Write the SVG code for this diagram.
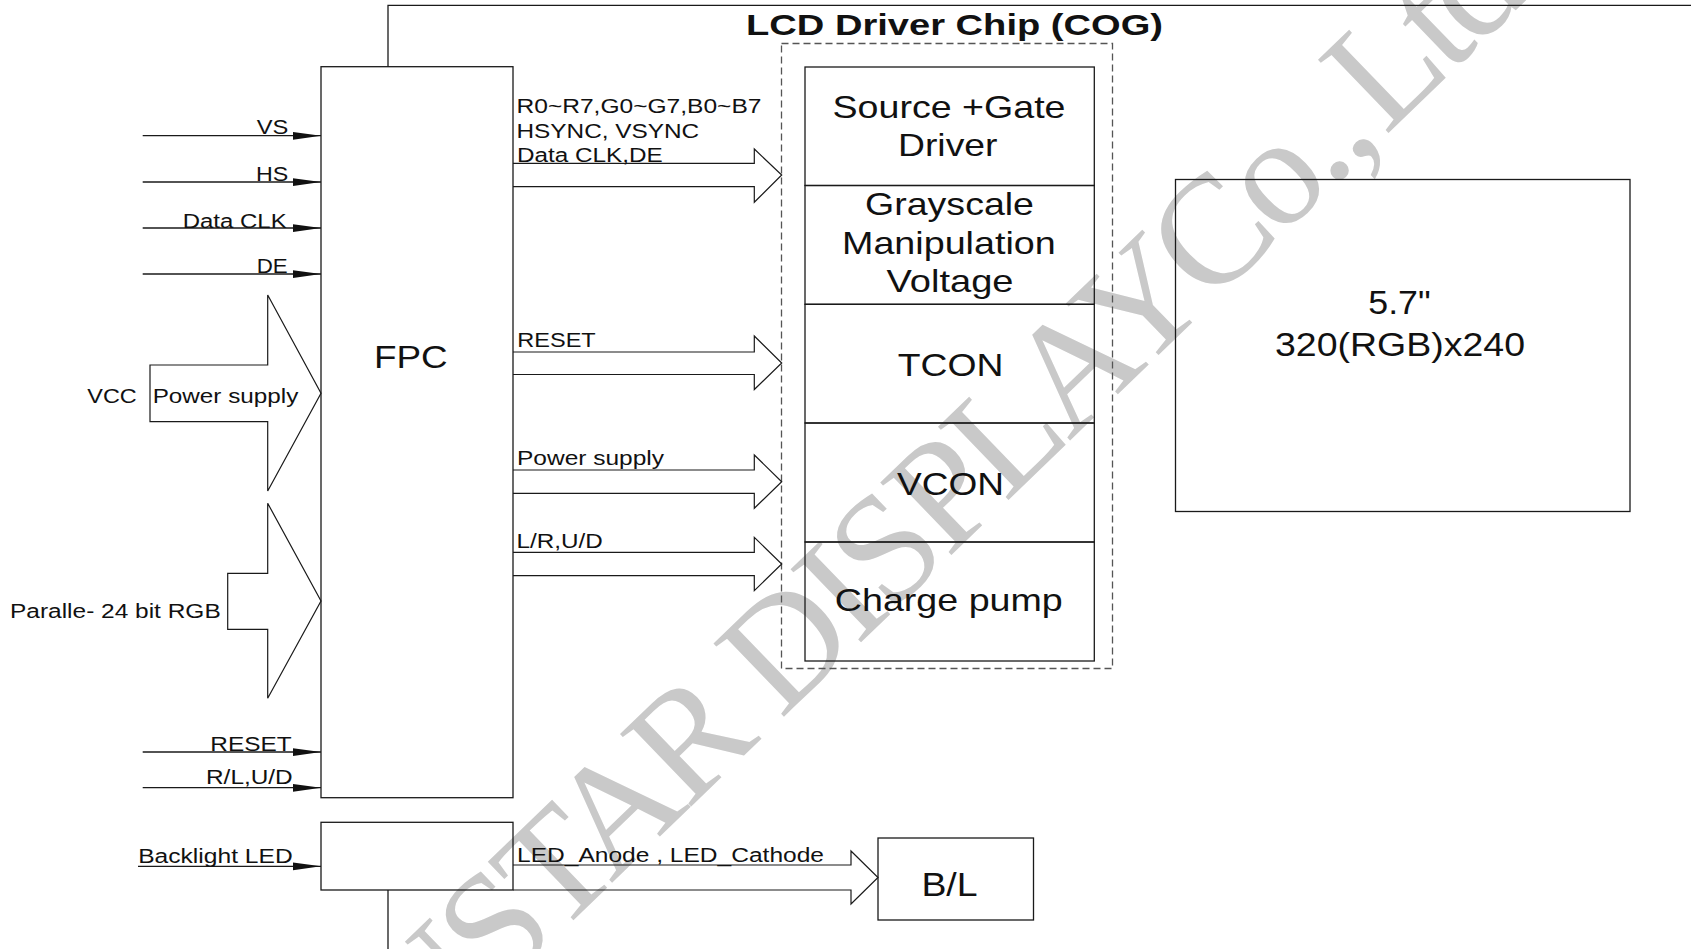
<svg xmlns="http://www.w3.org/2000/svg" width="1691" height="949" viewBox="0 0 1691 949">
<defs>
<style>
.ln{stroke:#1a1a1a;stroke-width:1.3;fill:none}
.bx{stroke:#1a1a1a;stroke-width:1.3;fill:none}
.ba{stroke:#1a1a1a;stroke-width:1.2;fill:none;stroke-linejoin:miter}
.t{font-family:"Liberation Sans",Arial,sans-serif;fill:#111}
.s{font-size:20px}
.m{font-size:32px}
.wm{font-family:"Liberation Serif","Times New Roman",serif;font-size:155px;letter-spacing:-6px;fill:#c9c9c9}
</style>
<marker id="ah" markerUnits="userSpaceOnUse" markerWidth="30" markerHeight="10" refX="28" refY="4" orient="auto">
<path d="M0,0.3 L28,4 L0,8 Z" fill="#111"/>
</marker>
</defs>
<rect width="1691" height="949" fill="#fff"/>
<g id="watermark" transform="translate(288.5,1195.2) rotate(-44)">
<text class="wm" x="0" y="0">WINSTAR DISPLAY <tspan dx="-30">Co.,</tspan> <tspan dx="-22">Ltd.</tspan></text>
</g>
<g id="frame">
<path class="ln" d="M388,66.7 V5.4 H1691"/>
<path class="ln" d="M388,890 V949"/>
</g>
<g id="title"><text class="t" x="746" y="35" font-size="30" font-weight="bold" textLength="417" lengthAdjust="spacingAndGlyphs">LCD Driver Chip (COG)</text></g>
<g id="fpc">
<rect class="bx" x="321" y="66.7" width="192" height="731"/>
<text class="t" x="374" y="368.3" font-size="31" textLength="73.7" lengthAdjust="spacingAndGlyphs">FPC</text>
</g>
<g id="backlight-fpc"><rect class="bx" x="321" y="822.3" width="192" height="67.7"/></g>
<g id="cog"><rect x="781.5" y="43.5" width="331" height="625" fill="none" stroke="#555" stroke-width="1.3" stroke-dasharray="7,4"/></g>
<g id="source-gate">
<rect class="bx" x="805" y="67" width="289.3" height="118.5"/>
<text class="t m" x="832.5" y="118" textLength="233" lengthAdjust="spacingAndGlyphs">Source +Gate</text>
<text class="t m" x="898" y="155.5" textLength="99.5" lengthAdjust="spacingAndGlyphs">Driver</text>
</g>
<g id="grayscale">
<rect class="bx" x="805" y="185.5" width="289.3" height="118.8"/>
<text class="t m" x="865" y="215" textLength="169" lengthAdjust="spacingAndGlyphs">Grayscale</text>
<text class="t m" x="842" y="254" textLength="213.7" lengthAdjust="spacingAndGlyphs">Manipulation</text>
<text class="t m" x="886.5" y="291.5" textLength="127" lengthAdjust="spacingAndGlyphs">Voltage</text>
</g>
<g id="tcon">
<rect class="bx" x="805" y="304.3" width="289.3" height="118.7"/>
<text class="t m" x="897.8" y="376" textLength="105.7" lengthAdjust="spacingAndGlyphs">TCON</text>
</g>
<g id="vcon">
<rect class="bx" x="805" y="423" width="289.3" height="119"/>
<text class="t m" x="897" y="495" textLength="107" lengthAdjust="spacingAndGlyphs">VCON</text>
</g>
<g id="charge-pump">
<rect class="bx" x="805" y="542" width="289.3" height="119"/>
<text class="t m" x="834.8" y="611" textLength="228" lengthAdjust="spacingAndGlyphs">Charge pump</text>
</g>
<g id="panel">
<rect class="bx" x="1175.5" y="179.5" width="454.5" height="332"/>
<text class="t" x="1368.3" y="314" font-size="34" textLength="62.4" lengthAdjust="spacingAndGlyphs">5.7"</text>
<text class="t" x="1275" y="356" font-size="34" textLength="250" lengthAdjust="spacingAndGlyphs">320(RGB)x240</text>
</g>
<g id="bl">
<rect class="bx" x="878" y="838" width="155.5" height="82"/>
<text class="t" x="921.4" y="895.5" font-size="33" textLength="56.2" lengthAdjust="spacingAndGlyphs">B/L</text>
</g>
<g id="connectors">
<path class="ln" d="M142.7,135.7 H321" marker-end="url(#ah)"/>
<path class="ln" d="M142.7,182 H321" marker-end="url(#ah)"/>
<path class="ln" d="M142.7,228 H321" marker-end="url(#ah)"/>
<path class="ln" d="M142.7,274 H321" marker-end="url(#ah)"/>
<path class="ln" d="M142.7,752 H321" marker-end="url(#ah)"/>
<path class="ln" d="M142.7,787.7 H321" marker-end="url(#ah)"/>
<path class="ln" d="M138,866.3 H321" marker-end="url(#ah)"/>
<polygon class="ba" points="150,365 267.7,365 267.7,295 321,393.3 267.7,491 267.7,421.7 150,421.7"/>
<polygon class="ba" points="227.7,573.3 267.7,573.3 267.7,503.3 321,601 267.7,698.3 267.7,629.3 227.7,629.3"/>
<polyline class="ba" points="513,163.3 754.3,163.3 754.3,149 781.7,175 754.3,202.3 754.3,186.7 513,186.7"/>
<polyline class="ba" points="513,352 754.3,352 754.3,336 781.7,363 754.3,389.5 754.3,374.5 513,374.5"/>
<polyline class="ba" points="513,470 754.3,470 754.3,455 781.7,481.7 754.3,508.3 754.3,493.3 513,493.3"/>
<polyline class="ba" points="513,552.3 754.3,552.3 754.3,537.3 781.7,564 754.3,590.7 754.3,575.7 513,575.7"/>
<polyline class="ba" points="513,865 851,865 851,851 878,877.5 851,904 851,890 513,890"/>
</g>
<g id="labels">
<text class="t s" x="256.7" y="134.3" textLength="31.6" lengthAdjust="spacingAndGlyphs">VS</text>
<text class="t s" x="256" y="180.7" textLength="32.3" lengthAdjust="spacingAndGlyphs">HS</text>
<text class="t s" x="182.7" y="228.3" textLength="104" lengthAdjust="spacingAndGlyphs">Data CLK</text>
<text class="t s" x="256.7" y="272.7" textLength="31" lengthAdjust="spacingAndGlyphs">DE</text>
<text class="t s" x="210.3" y="750.7" textLength="81.3" lengthAdjust="spacingAndGlyphs">RESET</text>
<text class="t s" x="206" y="784.3" textLength="86.7" lengthAdjust="spacingAndGlyphs">R/L,U/D</text>
<text class="t s" x="138.2" y="862.7" textLength="154.5" lengthAdjust="spacingAndGlyphs">Backlight LED</text>
<text class="t s" x="87.3" y="403.3" textLength="49.4" lengthAdjust="spacingAndGlyphs">VCC</text>
<text class="t s" x="152.7" y="403.3" textLength="145.6" lengthAdjust="spacingAndGlyphs">Power supply</text>
<text class="t s" x="10" y="618.3" textLength="210.7" lengthAdjust="spacingAndGlyphs">Paralle- 24 bit RGB</text>
<text class="t s" x="516.5" y="112.7" textLength="245" lengthAdjust="spacingAndGlyphs">R0~R7,G0~G7,B0~B7</text>
<text class="t s" x="516.5" y="137.7" textLength="182.7" lengthAdjust="spacingAndGlyphs">HSYNC, VSYNC</text>
<text class="t s" x="517" y="162.3" textLength="145.7" lengthAdjust="spacingAndGlyphs">Data CLK,DE</text>
<text class="t s" x="517.3" y="347.3" textLength="78.4" lengthAdjust="spacingAndGlyphs">RESET</text>
<text class="t s" x="517" y="465" textLength="147" lengthAdjust="spacingAndGlyphs">Power supply</text>
<text class="t s" x="516.5" y="547.7" textLength="86.2" lengthAdjust="spacingAndGlyphs">L/R,U/D</text>
<text class="t s" x="517" y="862" textLength="307" lengthAdjust="spacingAndGlyphs">LED_Anode , LED_Cathode</text>
</g>
</svg>
